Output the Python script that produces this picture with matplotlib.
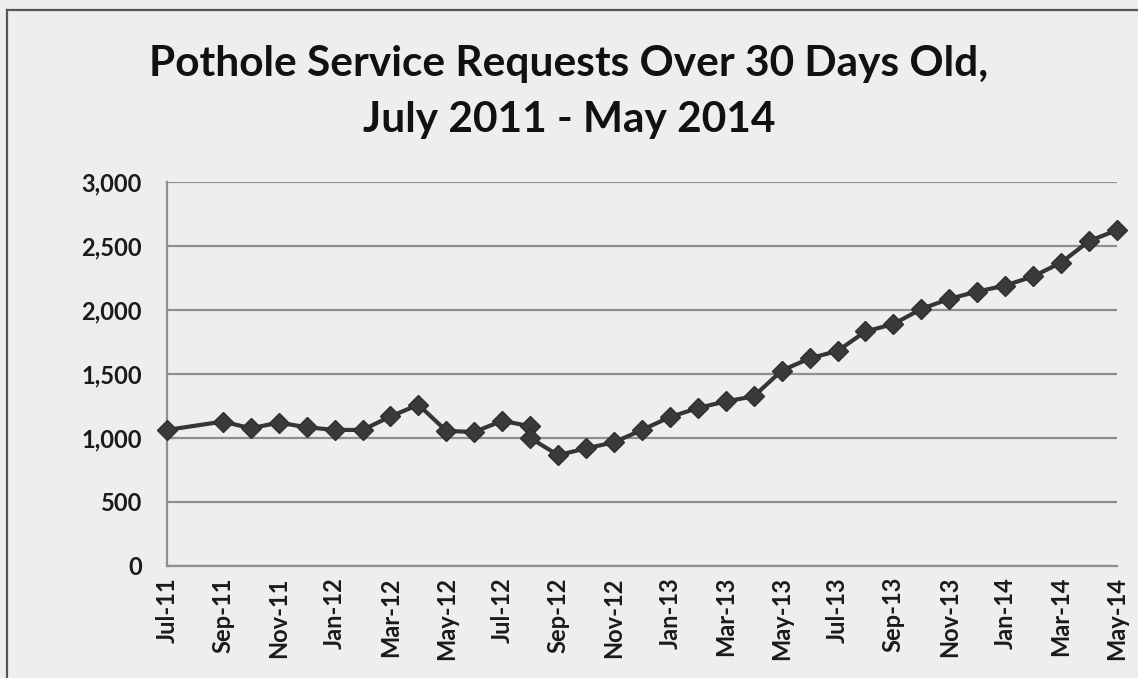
import numpy as np
import matplotlib
matplotlib.use("Agg")
from matplotlib import pyplot as plt
from matplotlib.lines import Line2D

# month index counted from Jul-11; Aug-11 missing, Aug-12 reported twice
months = [0, 2, 3, 4, 5, 6, 7, 8, 9, 10, 11, 12, 13, 13, 14, 15, 16, 17,
          18, 19, 20, 21, 22, 23, 24, 25, 26, 27, 28, 29, 30, 31, 32, 33, 34]
requests = [1063, 1128, 1076, 1120, 1084, 1063, 1063, 1168, 1260, 1055,
            1047, 1134, 1092, 1000, 866, 919, 966, 1063, 1163, 1234, 1286,
            1325, 1526, 1622, 1680, 1832, 1890, 2008, 2087, 2144, 2191,
            2262, 2370, 2538, 2624]
tick_months = list(range(0, 35, 2))
tick_labels = ["Jul-11", "Sep-11", "Nov-11", "Jan-12", "Mar-12", "May-12",
               "Jul-12", "Sep-12", "Nov-12", "Jan-13", "Mar-13", "May-13",
               "Jul-13", "Sep-13", "Nov-13", "Jan-14", "Mar-14", "May-14"]
y_ticks = [0, 500, 1000, 1500, 2000, 2500, 3000]

plt.rcParams['font.family'] = ['Lato', 'DejaVu Sans']
bg = '#eeeeee'
grid = '#8f8f8f'

fig = plt.figure(figsize=(11.38, 6.78), dpi=100, facecolor=bg)
ax = fig.add_axes([0.1467, 0.1652, 0.8348, 0.5664], facecolor=bg)

ax.plot(months, requests, color='#363636', lw=3, marker='D', ms=10.5,
        mec='#2e2e2e', mfc='#3a3a3a', zorder=3, clip_on=False)

ax.set_xlim(0, 34)
ax.set_ylim(0, 3000)
ax.set_yticks(y_ticks)
ax.set_yticklabels(["{:,}".format(v) for v in y_ticks])
ax.set_xticks(tick_months)
ax.set_xticklabels(tick_labels, rotation=90)
ax.tick_params(axis='both', length=0, labelsize=17, labelcolor='#1a1a1a')
ax.tick_params(axis='y', pad=18)
ax.tick_params(axis='x', pad=8)
for lab in ax.get_xticklabels() + ax.get_yticklabels():
    lab.set_fontweight('bold')

ax.yaxis.grid(True, color=grid, lw=1.6)
ax.set_axisbelow(True)
for side in ['top', 'right']:
    ax.spines[side].set_visible(False)
for side in ['left', 'bottom']:
    ax.spines[side].set_color(grid)
    ax.spines[side].set_linewidth(1.6)

fig.text(0.5, 0.864, "Pothole Service Requests Over 30 Days Old,\nJuly 2011 - May 2014",
         ha='center', va='center', fontsize=30.5, fontweight='bold',
         linespacing=1.57, color='#111111')

# outer chart border (top and left edges visible)
fig.add_artist(Line2D([0.0062, 1.0], [0.985, 0.985], color='#555555', lw=1.6))
fig.add_artist(Line2D([0.0062, 0.0062], [0.0, 0.985], color='#555555', lw=1.6))

fig.savefig("out.png", dpi=100, facecolor=bg)
